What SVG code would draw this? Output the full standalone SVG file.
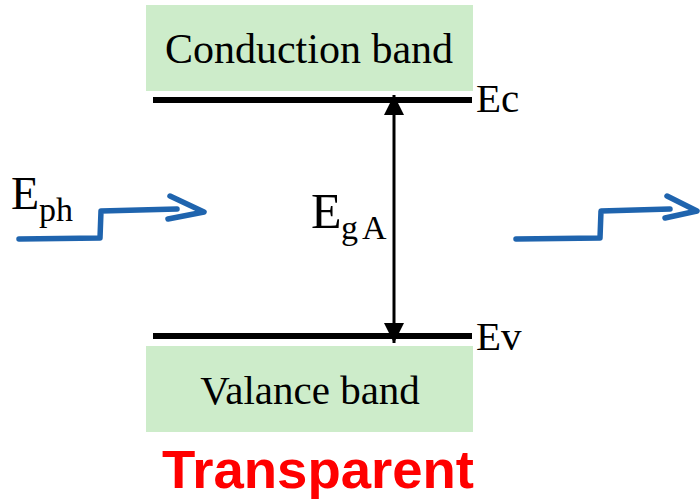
<svg xmlns="http://www.w3.org/2000/svg" width="700" height="499" viewBox="0 0 700 499">
<style>
.band{fill:#cdecca}
.t{font-family:"Liberation Serif","Times New Roman",serif;fill:#000}
.lvl{stroke:#000;stroke-width:6;fill:none}
.ph{stroke:#1f64ae;stroke-width:5.5;fill:none;stroke-linejoin:round;stroke-linecap:round}
</style>
<defs>
<marker id="ah" viewBox="0 0 10 10" refX="10" refY="5" markerWidth="7.3" markerHeight="6.7" orient="auto-start-reverse" markerUnits="strokeWidth">
<path d="M0,0 L10,5 L0,10 z" fill="#000"/>
</marker>
</defs>
<rect width="700" height="499" fill="#fff"/>
<g id="conduction-band">
<rect class="band" x="146" y="5" width="327" height="86"/>
<text class="t" x="309" y="63" font-size="42" text-anchor="middle">Conduction band</text>
</g>
<g id="valence-band">
<rect class="band" x="146" y="346" width="327" height="86"/>
<text class="t" x="310" y="404" font-size="41" text-anchor="middle">Valance band</text>
</g>
<g id="ec-level">
<line class="lvl" x1="153" y1="100" x2="472" y2="100"/>
<text class="t" x="476" y="112" font-size="41">Ec</text>
</g>
<g id="ev-level">
<line class="lvl" x1="153" y1="336" x2="472" y2="336"/>
<text class="t" x="476" y="350" font-size="41">Ev</text>
</g>
<g id="gap-label">
<text class="t" y="228" font-size="50"><tspan x="311">E</tspan><tspan x="341" y="239" font-size="34">g</tspan><tspan x="362" y="239" font-size="34">A</tspan></text>
</g>
<g id="eph-label">
<text class="t" x="11" y="209" font-size="46">E<tspan font-size="34" dy="12">ph</tspan></text>
</g>
<g id="connectors">
<line x1="394" y1="95" x2="394" y2="343" stroke="#000" stroke-width="3" marker-start="url(#ah)" marker-end="url(#ah)"/>
<path class="ph" d="M19,239 L100,238 L101,211 L177,209"/>
<path class="ph" d="M170,196 L204,212 L168,219"/>
<path class="ph" d="M516,239 L600,238 L601,211 L670,209"/>
<path class="ph" d="M667,196 L697,211 L665,218"/>
</g>
<g id="transparent-label">
<text x="318" y="488" font-family="'Liberation Sans',Arial,sans-serif" font-weight="bold" font-size="54" fill="#ff0000" text-anchor="middle" textLength="312" lengthAdjust="spacingAndGlyphs">Transparent</text>
</g>
</svg>
